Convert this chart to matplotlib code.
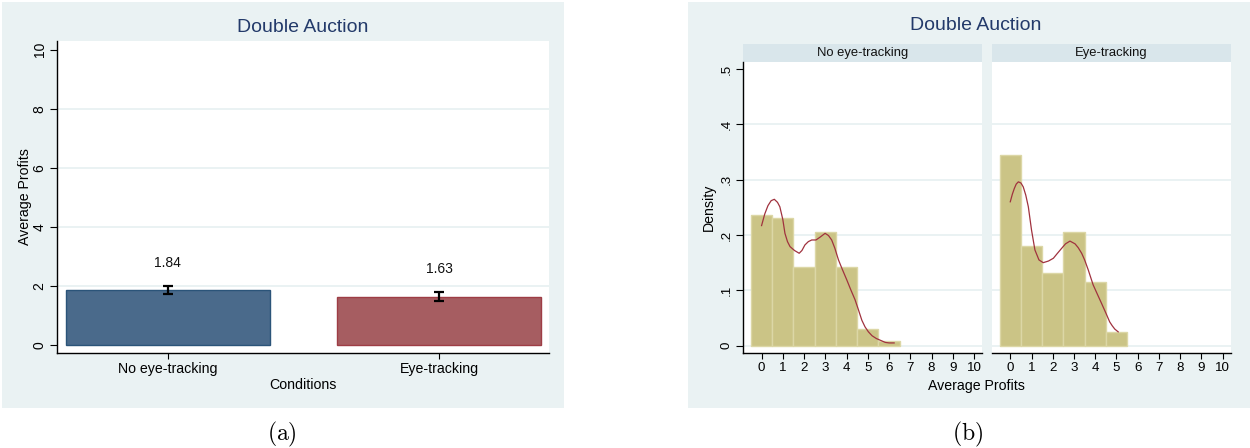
import matplotlib
matplotlib.use("Agg")
import matplotlib.pyplot as plt
from matplotlib.patches import Rectangle

plt.rcParams['font.family'] = ['Liberation Sans', 'DejaVu Sans']
plt.rcParams['mathtext.fontset'] = 'cm'

# ---------------- data ----------------
conditions = ["No eye-tracking", "Eye-tracking"]
mean_profits = [1.84, 1.63]
ci_low = [1.72, 1.49]
ci_high = [1.99, 1.78]
bar_labels = ["1.84", "1.63"]

hist_bins_no = [0, 1, 2, 3, 4, 5, 6]
density_no = [0.237, 0.230, 0.142, 0.205, 0.142, 0.031, 0.008]
hist_bins_eye = [0, 1, 2, 3, 4, 5]
density_eye = [0.344, 0.180, 0.131, 0.205, 0.1145, 0.024]

kde_no_x = [0.0, 0.15, 0.3, 0.45, 0.6, 0.75, 0.86, 1.0, 1.1, 1.22, 1.34, 1.55, 1.77,
            1.9, 2.04, 2.2, 2.36, 2.56, 2.75, 2.99, 3.15, 3.30, 3.45, 3.62, 3.8,
            4.01, 4.2, 4.40, 4.55, 4.72, 4.87, 5.03, 5.2, 5.4, 5.58, 5.82, 6.0, 6.24]
kde_no_y = [0.217, 0.238, 0.253, 0.262, 0.2645, 0.259, 0.251, 0.228, 0.203, 0.188,
            0.179, 0.172, 0.167, 0.172, 0.182, 0.188, 0.191, 0.191, 0.196, 0.203,
            0.199, 0.191, 0.176, 0.155, 0.138, 0.119, 0.101, 0.083, 0.066, 0.046,
            0.034, 0.025, 0.018, 0.013, 0.010, 0.006, 0.005, 0.005]
kde_eye_x = [0.0, 0.1, 0.19, 0.28, 0.38, 0.5, 0.61, 0.73, 0.85, 1.0, 1.16, 1.35, 1.55,
             1.8, 2.03, 2.2, 2.42, 2.6, 2.81, 3.05, 3.2, 3.36, 3.5, 3.67, 3.9, 4.1,
             4.29, 4.5, 4.68, 4.8, 4.92, 5.08]
kde_eye_y = [0.260, 0.274, 0.284, 0.292, 0.296, 0.294, 0.287, 0.272, 0.251, 0.209,
             0.173, 0.155, 0.150, 0.153, 0.158, 0.166, 0.176, 0.184, 0.189, 0.184,
             0.177, 0.167, 0.155, 0.137, 0.110, 0.093, 0.077, 0.059, 0.043, 0.036,
             0.030, 0.025]

W, H = 1250, 448
fig = plt.figure(figsize=(W / 100, H / 100), dpi=100)
fig.patch.set_facecolor('white')

BG = '#eaf2f3'
STRIP = '#d9e6eb'
NAVY = '#233a6a'
GRID = '#eaf2f3'


def rect(x0, y0, x1, y1):
    return [x0 / W, 1 - y1 / H, (x1 - x0) / W, (y1 - y0) / H]


def fx(x):
    return x / W


def fy(y):
    return 1 - y / H


# panel backgrounds
fig.patches.append(Rectangle((fx(2), fy(408.3)), (563.5 - 2) / W, (408.3 - 2) / H,
                             transform=fig.transFigure, facecolor=BG, edgecolor='none', zorder=-5))
fig.patches.append(Rectangle((fx(688), fy(408.3)), (1250 - 688) / W, (408.3 - 2) / H,
                             transform=fig.transFigure, facecolor=BG, edgecolor='none', zorder=-5))

# ---------------- panel (a) ----------------
ax = fig.add_axes(rect(57.3, 41, 549, 352.7))
ax.set_zorder(2)
ax.set_facecolor('white')
ax.set_xlim(-0.408, 1.406)
ax.set_ylim(-0.271, 10.295)
for y in [2, 4, 6, 8]:
    ax.axhline(y, color=GRID, lw=1.4, zorder=0.5)
xs = list(range(len(conditions)))
ax.bar(xs[0], mean_profits[0], width=0.75, color='#4a6a8b', edgecolor='#2b5479', lw=1.0, zorder=2)
ax.bar(xs[1], mean_profits[1], width=0.75, color='#a65d61', edgecolor='#9e3d45', lw=1.0, zorder=2)
for i in xs:
    m = mean_profits[i]
    ax.errorbar(i, m, yerr=[[m - ci_low[i]], [ci_high[i] - m]], fmt='none', ecolor='black',
                elinewidth=1.6, capsize=3.6, capthick=1.6, zorder=3)
    ax.text(i, ci_high[i] + 0.78, bar_labels[i], ha='center', va='center', fontsize=10, color='#111111')
for s in ['top', 'right']:
    ax.spines[s].set_visible(False)
ax.spines['left'].set_linewidth(1.0)
ax.spines['bottom'].set_linewidth(1.0)
ax.set_yticks([0, 2, 4, 6, 8, 10])
ax.set_yticklabels(['0', '2', '4', '6', '8', '10'], rotation=90, va='center', fontsize=10)
ax.tick_params(axis='y', length=5.2, width=0.8, pad=2.5)
ax.set_xticks(xs)
ax.set_xticklabels(conditions, fontsize=10.2)
ax.tick_params(axis='x', length=4, width=0.8, pad=3)
fig.text(fx(25), fy(197), 'Average Profits', rotation=90, ha='center', va='center', fontsize=10.2)
fig.text(fx(303), fy(385), 'Conditions', ha='center', va='center', fontsize=10.2)
fig.text(fx(303), fy(27), 'Double Auction', ha='center', va='center', fontsize=14, color=NAVY)

# ---------------- panel (b) ----------------
panels = [
    (743.3, 982.3, "No eye-tracking", hist_bins_no, density_no, kde_no_x, kde_no_y),
    (992.0, 1231.0, "Eye-tracking", hist_bins_eye, density_eye, kde_eye_x, kde_eye_y),
]
for k, (x0, x1, name, bins, dens, kx, ky) in enumerate(panels):
    a = fig.add_axes(rect(x0, 61.7, x1, 352.7))
    a.set_zorder(2)
    a.set_facecolor('white')
    a.set_xlim(-0.86, 10.39)
    a.set_ylim(-0.01265, 0.5131)
    for y in [0, 0.1, 0.2, 0.3, 0.4]:
        a.axhline(y, color=GRID, lw=1.4, zorder=0.5)
    a.bar(bins, dens, width=1.0, align='center', color='#cbc486', edgecolor='#dcd7a6', lw=1.0, zorder=2)
    a.plot(kx, ky, color='#a0323e', lw=0.9, zorder=3)
    for s in ['top', 'right']:
        a.spines[s].set_visible(False)
    a.spines['bottom'].set_linewidth(1.0)
    a.set_xticks(range(0, 11))
    a.set_xticklabels([str(v) for v in range(0, 11)], fontsize=9.6)
    a.tick_params(axis='x', length=4, width=0.8, pad=2.5)
    if k == 0:
        a.spines['left'].set_linewidth(1.0)
        a.set_yticks([0, 0.1, 0.2, 0.3, 0.4, 0.5])
        a.set_yticklabels(['0', '.1', '.2', '.3', '.4', '.5'], rotation=90, va='center', fontsize=9.6)
        a.tick_params(axis='y', length=5.2, width=0.8, pad=2.5)
    else:
        a.spines['left'].set_visible(False)
        a.set_yticks([])
    # strip
    fig.patches.append(Rectangle((fx(x0), fy(61.7)), (x1 - x0) / W, (61.7 - 44) / H,
                                 transform=fig.transFigure, facecolor=STRIP, edgecolor='none', zorder=-4))
    fig.text(fx((x0 + x1) / 2), fy(52.7), name, ha='center', va='center', fontsize=9.4, color='#111111')

fig.text(fx(709), fy(207), 'Density', rotation=90, ha='center', va='center', fontsize=10.2)
fig.text(fx(976), fy(386), 'Average Profits', ha='center', va='center', fontsize=10.2)
fig.text(fx(976), fy(25), 'Double Auction', ha='center', va='center', fontsize=14, color=NAVY)

# captions
fig.text(fx(282), fy(434), r'$\mathrm{(a)}$', ha='center', va='center', fontsize=17)
fig.text(fx(968), fy(434), r'$\mathrm{(b)}$', ha='center', va='center', fontsize=17)

fig.savefig('out.png', dpi=100, facecolor='white')
